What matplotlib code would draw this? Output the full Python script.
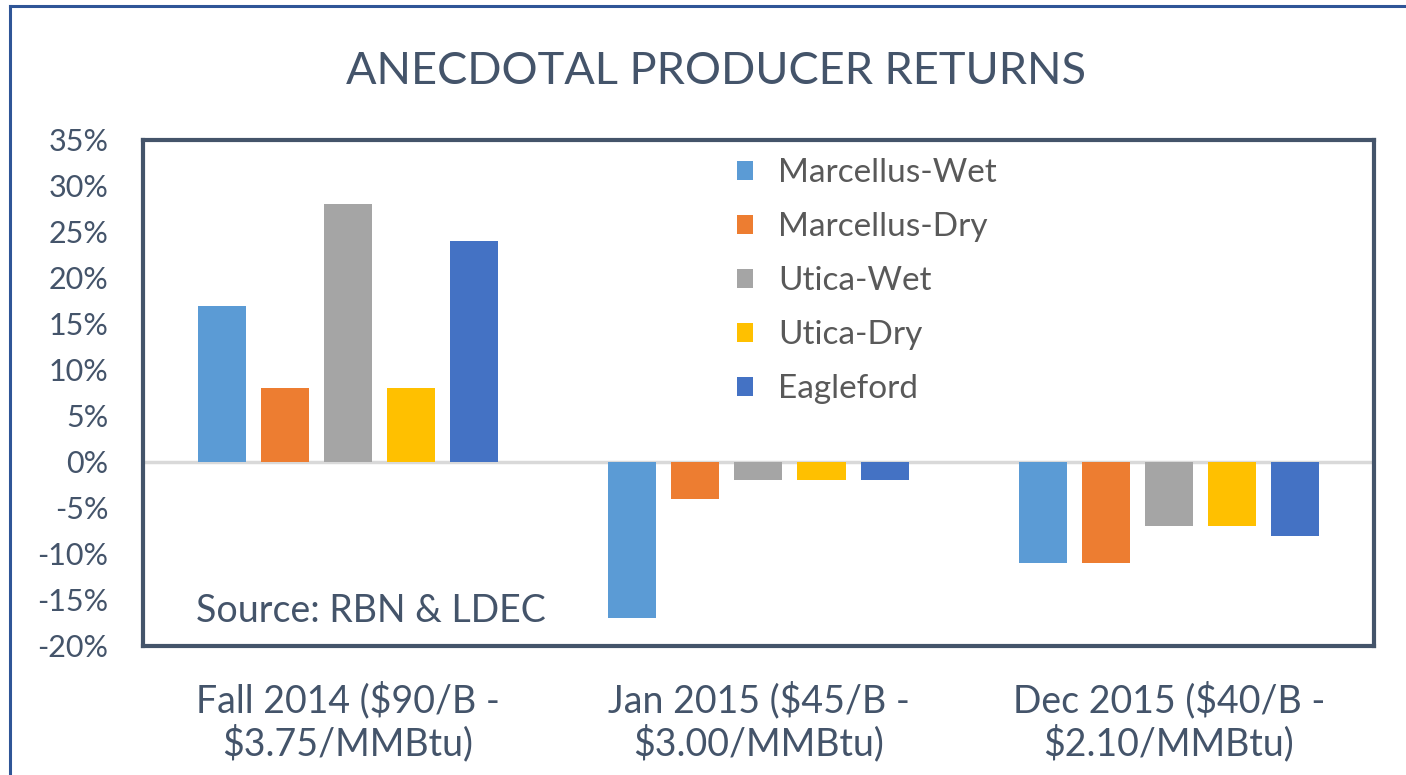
import numpy as np
import matplotlib
matplotlib.use('Agg')
import matplotlib.pyplot as plt
from matplotlib.ticker import FuncFormatter

categories = ['Fall 2014 ($90/B -\n$3.75/MMBtu)',
              'Jan 2015 ($45/B -\n$3.00/MMBtu)',
              'Dec 2015 ($40/B -\n$2.10/MMBtu)']
series = ['Marcellus-Wet', 'Marcellus-Dry', 'Utica-Wet', 'Utica-Dry', 'Eagleford']
marcellus_wet = [0.17, -0.17, -0.11]
marcellus_dry = [0.08, -0.04, -0.11]
utica_wet = [0.28, -0.02, -0.07]
utica_dry = [0.08, -0.02, -0.07]
eagleford = [0.24, -0.02, -0.08]
colors = ['#5B9BD5', '#ED7D31', '#A5A5A5', '#FFC000', '#4472C4']

slate = '#44546A'
plt.rcParams['font.family'] = ['Lato', 'DejaVu Sans']

fig = plt.figure(figsize=(14.06, 7.75), dpi=100)
ax = fig.add_axes([0.1017, 0.1665, 0.8755, 0.6529])

# outer chart border (only top and left visible in the crop)
fig.add_artist(plt.Line2D([10 / 1406, 10 / 1406], [0, 1 - 6 / 775], transform=fig.transFigure,
                          color='#2F5597', lw=2.2))
fig.add_artist(plt.Line2D([10 / 1406, 1], [1 - 6 / 775, 1 - 6 / 775], transform=fig.transFigure,
                          color='#2F5597', lw=2.2))

x = np.arange(len(categories))
step = 63 / 410
width = 48 / 410
values = [marcellus_wet, marcellus_dry, utica_wet, utica_dry, eagleford]
for j, (name, vals) in enumerate(zip(series, values)):
    ax.bar(x + (j - 2) * step, vals, width, color=colors[j], label=name, zorder=3)

ax.axhline(0, color='#D9D9D9', lw=2.5, zorder=2)
ax.set_xlim(-0.5, 2.5)
ax.set_ylim(-0.20, 0.35)
ax.set_yticks(np.arange(-0.20, 0.36, 0.05))
ax.yaxis.set_major_formatter(FuncFormatter(lambda v, p: '{:.0f}%'.format(round(v * 100))))
ax.set_xticks(x)
ax.set_xticklabels(categories, fontsize=27, color=slate, linespacing=1.15)
ax.tick_params(axis='y', labelsize=22, labelcolor=slate, length=0, pad=25)
ax.tick_params(axis='x', length=0, pad=26)

for s in ax.spines.values():
    s.set_color(slate)
    s.set_linewidth(3)

ax.set_title('ANECDOTAL PRODUCER RETURNS', fontsize=32.5, color=slate, pad=40, x=0.4655)
ax.text(0.043, 0.07, 'Source: RBN & LDEC', transform=ax.transAxes, fontsize=27,
        color=slate, ha='left', va='center')

leg = ax.legend(loc='upper left', bbox_to_anchor=(0.472, 0.99), frameon=False,
                fontsize=24, handlelength=0.48, handleheight=0.5, handletextpad=0.75,
                labelspacing=0.72, borderaxespad=0)
for t in leg.get_texts():
    t.set_color('#595959')

fig.savefig('out.png', dpi=100)
